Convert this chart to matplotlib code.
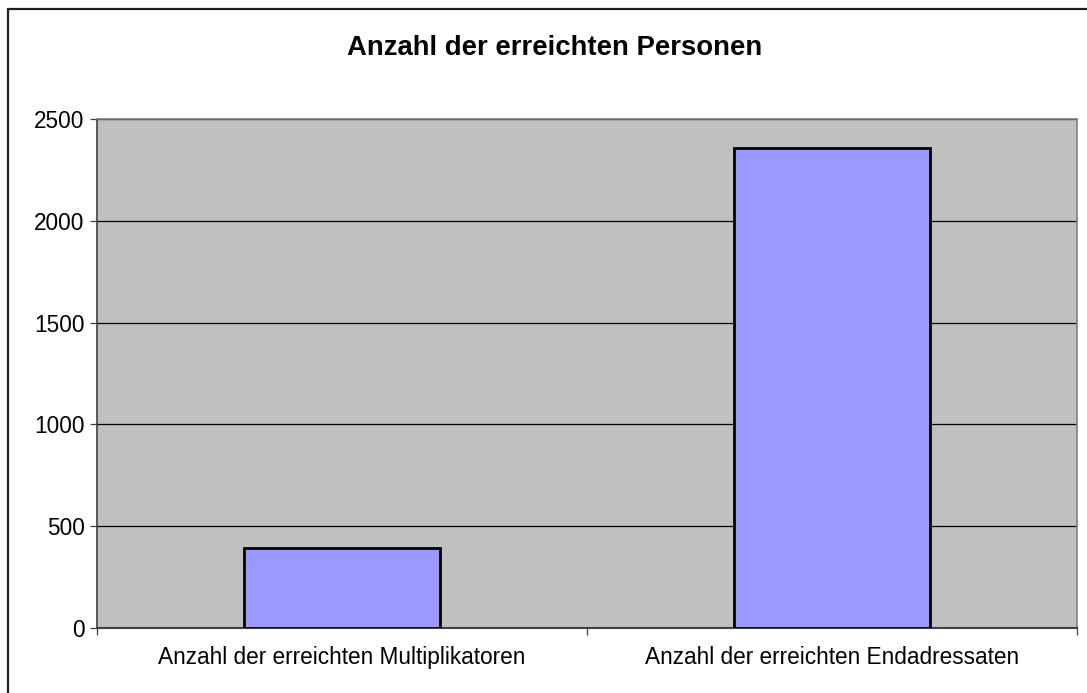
import matplotlib
matplotlib.use("Agg")
import matplotlib.pyplot as plt
from matplotlib.patches import Rectangle

categories = ["Anzahl der erreichten Multiplikatoren", "Anzahl der erreichten Endadressaten"]
values = [393, 2357]
yticks = [0, 500, 1000, 1500, 2000, 2500]
title = "Anzahl der erreichten Personen"

plt.rcParams['font.family'] = ['Liberation Sans', 'DejaVu Sans']

W, H = 1087, 693
fig = plt.figure(figsize=(W / 100, H / 100), dpi=100)
fig.patch.set_facecolor("white")

ax = fig.add_axes([97 / W, 1 - 628 / H, (1077 - 97) / W, (628 - 119) / H])
ax.set_facecolor("#C0C0C0")

x = list(range(len(categories)))
ax.bar(x, values, width=0.4, color="#9999FF", edgecolor="black", linewidth=2, zorder=3)

ax.set_xlim(-0.5, len(categories) - 0.5)
ax.set_ylim(0, 2500)
ax.set_yticks(yticks)
ax.set_yticklabels([str(v) for v in yticks], fontsize=16.3)
ax.yaxis.grid(True, color="black", linewidth=0.9, zorder=1)
ax.set_axisbelow(True)

ax.set_xticks([i - 0.5 for i in range(len(categories) + 1)])
ax.set_xticklabels([""] * (len(categories) + 1))
ax.set_xticks(x, minor=True)
ax.set_xticklabels(categories, minor=True, fontsize=16.3)
ax.tick_params(axis="x", which="minor", length=0, pad=13)
ax.tick_params(axis="x", which="major", length=5, width=0.9, color="#404040", direction="out")
ax.tick_params(axis="y", length=5, width=0.9, color="#404040", direction="out", pad=4)

for side in ["top", "right"]:
    ax.spines[side].set_color("#808080")
    ax.spines[side].set_linewidth(1.2)
ax.spines["left"].set_color("#404040")
ax.spines["left"].set_linewidth(1.2)
ax.spines["bottom"].set_color("#404040")
ax.spines["bottom"].set_linewidth(1.5)

fig.text((347 + 762) / 2 / W, 1 - 48 / H, title, ha="center", va="center",
         fontsize=19.8, fontweight="bold")

border = Rectangle((8 / W, -0.05), 1.2, 1 - 9 / H + 0.05, transform=fig.transFigure,
                   fill=False, edgecolor="#202020", linewidth=1.6)
fig.patches.append(border)

fig.savefig("out.png", dpi=100)
